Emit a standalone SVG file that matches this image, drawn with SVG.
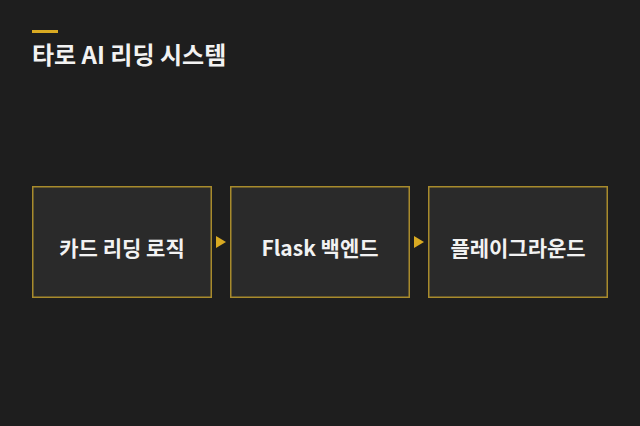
<svg xmlns="http://www.w3.org/2000/svg" width="640" height="426" viewBox="0 0 640 426">
<style>
.bg{fill:#1e1e1e}
.box{fill:#2a2a2a;stroke:#a88b2c;stroke-width:1.5}
.lbl{font-family:"Noto Sans CJK KR","Noto Sans",sans-serif;font-weight:700;font-size:21px;fill:#f2f2f2;text-anchor:middle}
.title{font-family:"Noto Sans CJK KR","Noto Sans",sans-serif;font-weight:700;font-size:24px;fill:#f2f2f2}
.arr{fill:#d9aa22}
</style>
<rect class="bg" x="0" y="0" width="640" height="426"/>
<g id="header">
<rect x="32" y="30" width="26" height="3" fill="#d9aa22"/>
<text class="title" x="32" y="64">타로 AI 리딩 시스템</text>
</g>
<g id="node-card">
<rect class="box" x="32.75" y="186.75" width="178.5" height="110.5"/>
<text class="lbl" x="122" y="256">카드 리딩 로직</text>
</g>
<g id="node-flask">
<rect class="box" x="230.75" y="186.75" width="178.5" height="110.5"/>
<text class="lbl" x="320" y="256">Flask 백엔드</text>
</g>
<g id="node-playground">
<rect class="box" x="428.75" y="186.75" width="178.5" height="110.5"/>
<text class="lbl" x="518" y="256">플레이그라운드</text>
</g>
<g id="connectors">
<polygon class="arr" points="216,236 226,242 216,248"/>
<polygon class="arr" points="414,236 424,242 414,248"/>
</g>
</svg>
